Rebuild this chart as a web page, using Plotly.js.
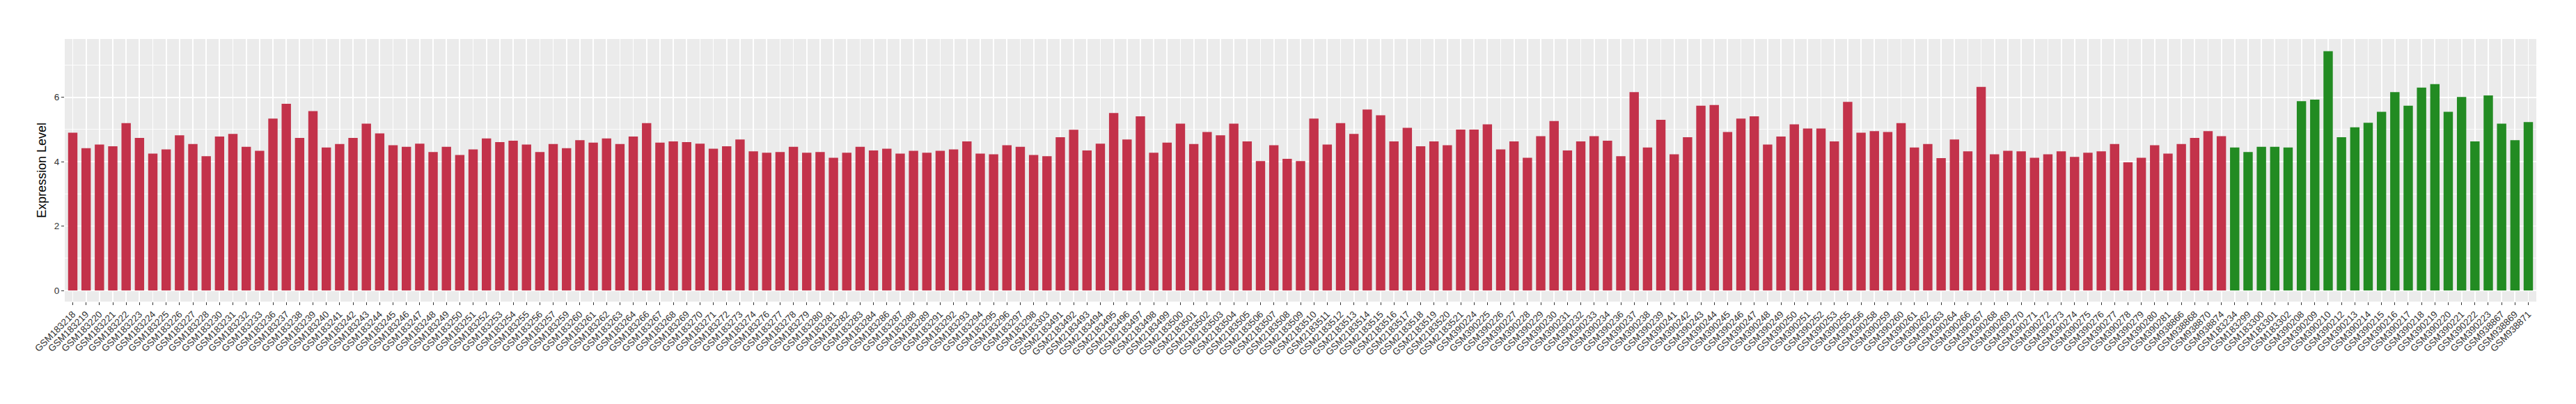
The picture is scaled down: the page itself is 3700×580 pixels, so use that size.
<!DOCTYPE html>
<html>
<head>
<meta charset="utf-8">
<script src="https://cdn.plot.ly/plotly-3.0.1.min.js"></script>
<style>html,body{margin:0;padding:0;background:#fff;}#chart{width:3700px;height:580px;}</style>
</head>
<body>
<div id="chart"></div>
<script>
// Group 1 (red) samples and expression levels
const redSamples = [
"GSM183218","GSM183219","GSM183220","GSM183221","GSM183222","GSM183223","GSM183224","GSM183225","GSM183226","GSM183227",
"GSM183228","GSM183230","GSM183231","GSM183232","GSM183233","GSM183236","GSM183237","GSM183238","GSM183239","GSM183240",
"GSM183241","GSM183242","GSM183243","GSM183244","GSM183245","GSM183246","GSM183247","GSM183248","GSM183249","GSM183250",
"GSM183251","GSM183252","GSM183253","GSM183254","GSM183255","GSM183256","GSM183257","GSM183259","GSM183260","GSM183261",
"GSM183262","GSM183263","GSM183264","GSM183266","GSM183267","GSM183268","GSM183269","GSM183270","GSM183271","GSM183272",
"GSM183273","GSM183274","GSM183276","GSM183277","GSM183278","GSM183279","GSM183280","GSM183281","GSM183282","GSM183283",
"GSM183284","GSM183286","GSM183287","GSM183288","GSM183289","GSM183291","GSM183292","GSM183293","GSM183294","GSM183295",
"GSM183296","GSM183297","GSM183298","GSM183303","GSM2183491","GSM2183492","GSM2183493","GSM2183494","GSM2183495","GSM2183496",
"GSM2183497","GSM2183498","GSM2183499","GSM2183500","GSM2183501","GSM2183502","GSM2183503","GSM2183504","GSM2183505","GSM2183506",
"GSM2183507","GSM2183508","GSM2183509","GSM2183510","GSM2183511","GSM2183512","GSM2183513","GSM2183514","GSM2183515","GSM2183516",
"GSM2183517","GSM2183518","GSM2183519","GSM2183520","GSM2183521","GSM390224","GSM390225","GSM390226","GSM390227","GSM390228",
"GSM390229","GSM390230","GSM390231","GSM390232","GSM390233","GSM390234","GSM390236","GSM390237","GSM390238","GSM390239",
"GSM390241","GSM390242","GSM390243","GSM390244","GSM390245","GSM390246","GSM390247","GSM390248","GSM390249","GSM390250",
"GSM390251","GSM390252","GSM390253","GSM390255","GSM390256","GSM390258","GSM390259","GSM390260","GSM390261","GSM390262",
"GSM390263","GSM390264","GSM390266","GSM390267","GSM390268","GSM390269","GSM390270","GSM390271","GSM390272","GSM390273",
"GSM390274","GSM390275","GSM390276","GSM390277","GSM390278","GSM390279","GSM390280","GSM390281","GSM938866","GSM938868",
"GSM938870","GSM938874"
];
const redValues = [
4.90,4.42,4.53,4.48,5.20,4.74,4.25,4.38,4.82,4.55,
4.17,4.78,4.86,4.46,4.34,5.34,5.80,4.74,5.57,4.44,
4.55,4.74,5.18,4.88,4.51,4.46,4.56,4.30,4.46,4.21,
4.38,4.72,4.61,4.65,4.53,4.30,4.55,4.42,4.67,4.59,
4.72,4.55,4.78,5.20,4.59,4.63,4.61,4.56,4.40,4.48,
4.69,4.32,4.28,4.30,4.46,4.28,4.30,4.12,4.28,4.46,
4.35,4.40,4.25,4.34,4.28,4.34,4.38,4.63,4.25,4.23,
4.51,4.46,4.21,4.17,4.76,4.99,4.35,4.56,5.51,4.69,
5.41,4.28,4.59,5.18,4.55,4.92,4.82,5.18,4.63,4.02,
4.51,4.09,4.02,5.34,4.53,5.20,4.86,5.62,5.44,4.63,
5.05,4.48,4.63,4.51,5.00,5.00,5.16,4.38,4.63,4.12,
4.79,5.26,4.35,4.63,4.79,4.65,4.17,6.16,4.44,5.30,
4.23,4.76,5.74,5.76,4.92,5.34,5.41,4.53,4.78,5.16,
5.03,5.03,4.63,5.86,4.90,4.95,4.92,5.20,4.44,4.55,
4.11,4.69,4.32,6.32,4.23,4.34,4.32,4.12,4.23,4.32,
4.15,4.28,4.32,4.55,3.98,4.12,4.51,4.25,4.55,4.74,
4.95,4.79
];
// Group 2 (green) samples and expression levels
const greenSamples = [
"GSM183234","GSM183299","GSM183300","GSM183301","GSM183302","GSM390208","GSM390209","GSM390210","GSM390212","GSM390213",
"GSM390214","GSM390215","GSM390216","GSM390217","GSM390218","GSM390219","GSM390220","GSM390221","GSM390222","GSM390223",
"GSM938867","GSM938869","GSM938871"
];
const greenValues = [
4.44,4.30,4.46,4.46,4.44,5.88,5.93,7.43,4.76,5.07,
5.21,5.55,6.16,5.74,6.30,6.41,5.55,6.01,4.63,6.06,
5.18,4.67,5.23
];
const yTicks = [0, 2, 4, 6];

const allSamples = redSamples.concat(greenSamples);
const fontFam = '"Liberation Sans", Arial, Helvetica, sans-serif';

const traces = [
  {type:'bar', x: redSamples, y: redValues, width: 0.7, marker:{color:'#C3324A'}, showlegend:false, hoverinfo:'x+y'},
  {type:'bar', x: greenSamples, y: greenValues, width: 0.7, marker:{color:'#228B22'}, showlegend:false, hoverinfo:'x+y'}
];

const layout = {
  width: 3700, height: 580,
  margin: {l: 93.3, r: 57, t: 56, b: 147.3, pad: 0},
  paper_bgcolor: '#FFFFFF',
  plot_bgcolor: '#EBEBEB',
  barmode: 'overlay',
  font: {family: fontFam, color: '#000'},
  xaxis: {
    type: 'category',
    categoryorder: 'array',
    categoryarray: allSamples,
    range: [-0.6, allSamples.length - 0.4],
    tickangle: -45,
    tickfont: {size: 13.5, color: '#333333', family: fontFam},
    ticks: 'outside', ticklen: 4, tickwidth: 1, tickcolor: '#333333',
    showgrid: true, gridcolor: '#FFFFFF', gridwidth: 1.8,
    zeroline: false, showline: false, automargin: false, fixedrange: true
  },
  yaxis: {
    range: [-0.346, 7.81],
    tickvals: yTicks,
    ticktext: yTicks.map(String),
    tickfont: {size: 13.5, color: '#333333', family: fontFam},
    ticks: 'outside', ticklen: 4, tickwidth: 1, tickcolor: '#333333',
    showgrid: true, gridcolor: '#FFFFFF', gridwidth: 1.8,
    minor: {tickvals: [1, 3, 5, 7], showgrid: true, gridcolor: '#FFFFFF', gridwidth: 0.9, ticks: ''},
    zeroline: false, showline: false, automargin: false, fixedrange: true,
    title: {text: 'Expression Level', font: {size: 18, color: '#000', family: fontFam}, standoff: 6}
  }
};

Plotly.newPlot('chart', traces, layout, {displayModeBar: false, staticPlot: true});
</script>
</body>
</html>
